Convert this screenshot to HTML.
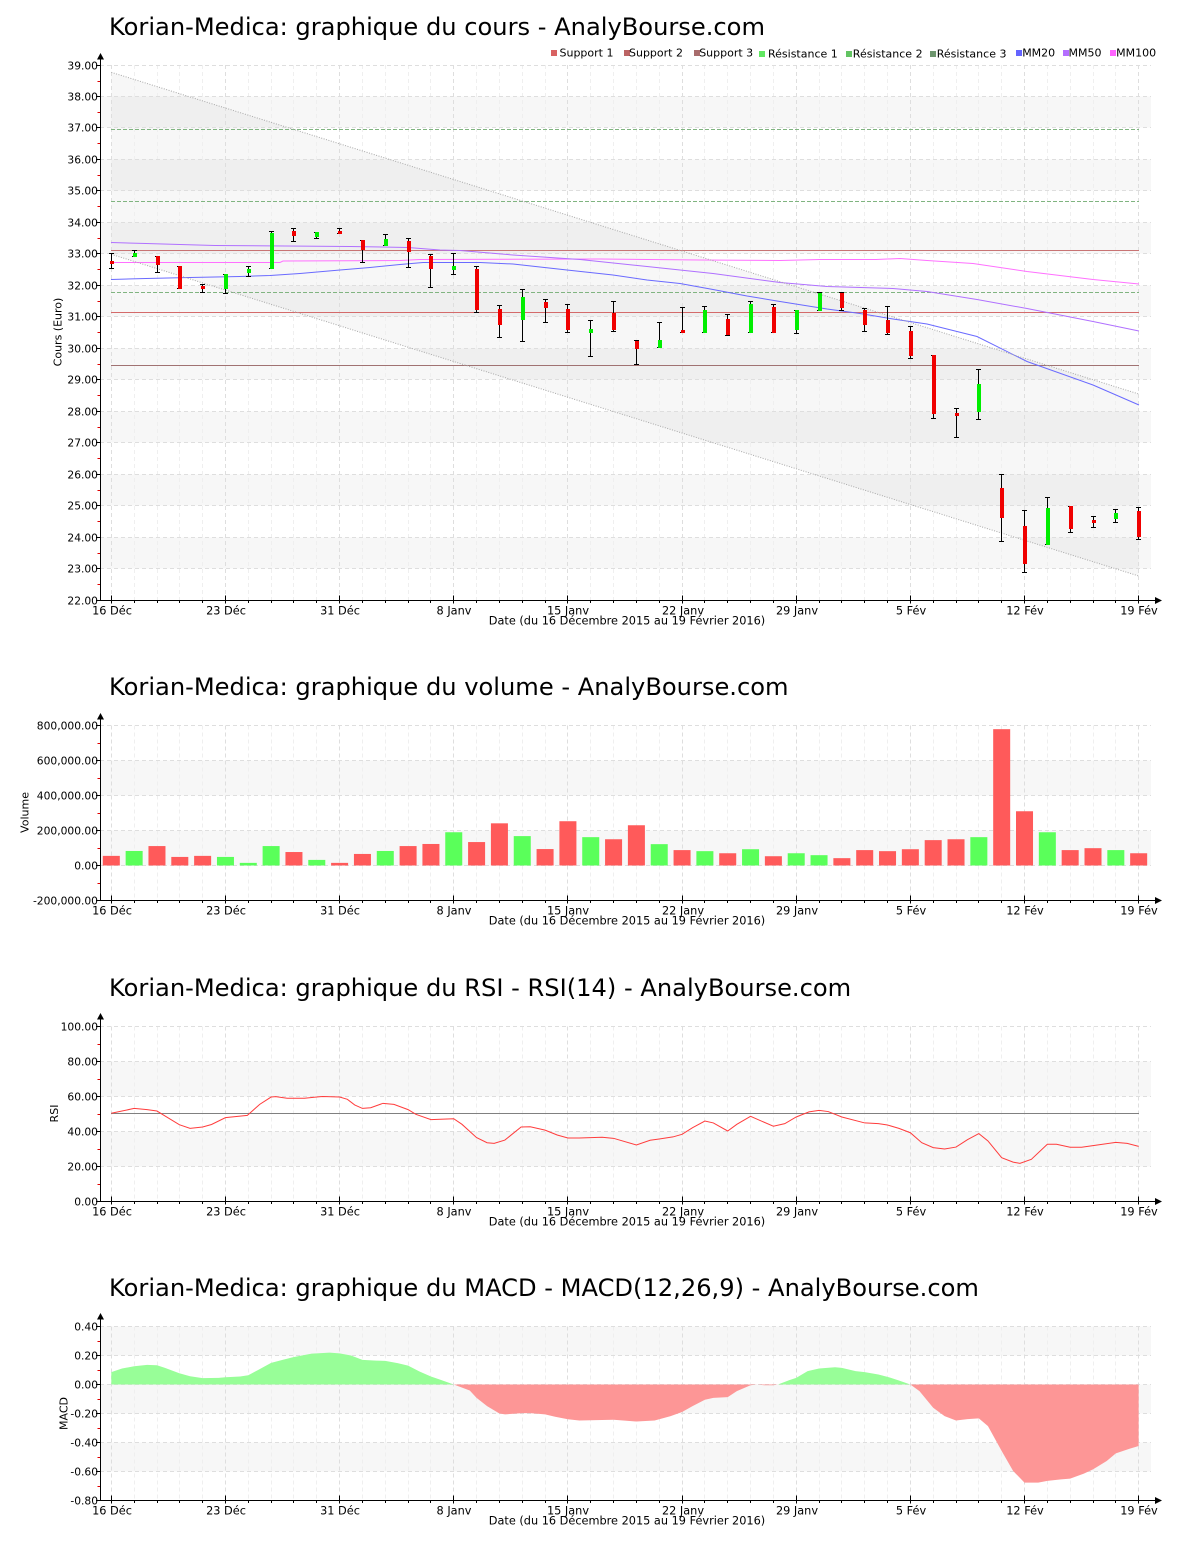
<!DOCTYPE html>
<html><head><meta charset="utf-8"><title>Korian-Medica - AnalyBourse.com</title>
<style>
html,body{margin:0;padding:0;background:#fff}
svg{display:block}
text{font-family:"DejaVu Sans","Liberation Sans",sans-serif;fill:#000}
.yl{font-size:10.7px;text-anchor:end}
.xl{font-size:11.3px;text-anchor:middle}
.tt{font-size:24.15px}
.lg{font-size:11px}
.at{font-size:11px;text-anchor:middle}
</style></head>
<body>
<svg width="1200" height="1550" viewBox="0 0 1200 1550" xmlns="http://www.w3.org/2000/svg">
<rect x="0" y="0" width="1200" height="1550" fill="#fff"/>

<!-- ================= PRICE CHART ================= -->
<text class="tt" x="109" y="35">Korian-Medica: graphique du cours - AnalyBourse.com</text>
<g fill="#f7f7f7">
<rect x="100" y="96.5" width="1051" height="31"/><rect x="100" y="159.5" width="1051" height="31"/>
<rect x="100" y="222.5" width="1051" height="31"/><rect x="100" y="285.5" width="1051" height="31"/>
<rect x="100" y="348.5" width="1051" height="31"/><rect x="100" y="411.5" width="1051" height="31"/>
<rect x="100" y="474.5" width="1051" height="31"/><rect x="100" y="537.5" width="1051" height="31"/>
</g>
<polygon points="111.3,72.3 1138.7,394 1138.7,576 111.3,254.3" fill="rgba(0,0,0,0.03)"/>
<path d="M134.5 65v535M157.5 65v535M179.5 65v535M202.5 65v535M248.5 65v535M271.5 65v535M293.5 65v535M316.5 65v535M362.5 65v535M385.5 65v535M408.5 65v535M430.5 65v535M476.5 65v535M499.5 65v535M522.5 65v535M545.5 65v535M590.5 65v535M613.5 65v535M636.5 65v535M659.5 65v535M704.5 65v535M727.5 65v535M750.5 65v535M773.5 65v535M819.5 65v535M841.5 65v535M864.5 65v535M887.5 65v535M933.5 65v535M956.5 65v535M978.5 65v535M1001.5 65v535M1047.5 65v535M1070.5 65v535M1093.5 65v535M1115.5 65v535" stroke="#efefef" stroke-dasharray="4,3" fill="none"/>
<path d="M111.5 65v535M225.5 65v535M339.5 65v535M453.5 65v535M567.5 65v535M682.5 65v535M796.5 65v535M910.5 65v535M1024.5 65v535M1138.5 65v535" stroke="#dedede" stroke-dasharray="4,3" fill="none"/>
<path d="M100 65.5H1151M100 96.5H1151M100 127.5H1151M100 159.5H1151M100 190.5H1151M100 222.5H1151M100 253.5H1151M100 285.5H1151M100 316.5H1151M100 348.5H1151M100 379.5H1151M100 411.5H1151M100 442.5H1151M100 474.5H1151M100 505.5H1151M100 537.5H1151M100 568.5H1151" stroke="#dedede" stroke-dasharray="4,3" fill="none"/>

<!-- support / resistance -->
<path d="M111 250.5H1139" stroke="#c87474" fill="none"/>
<path d="M111 312.5H1139" stroke="#d46a6a" fill="none"/>
<path d="M111 365.5H1139" stroke="#a07272" fill="none"/>
<path d="M111 129.5H1139M111 201.5H1139M111 292.5H1139" stroke="#80b480" stroke-dasharray="4,2" fill="none"/>

<!-- moving averages -->
<polyline points="111,262.5 280,262.5 283,261 400,260.5 420,259.5 600,259 700,260 780,260.5 820,259.5 876,259.5 900,258.5 927,260.5 973,263.5 1027,271.5 1093,279.5 1139,284" stroke="#ff70ff" fill="none"/>
<polyline points="111,242.5 146,243.5 180,244.5 215,245.5 350,246.5 408,247.5 440,250 460,250.5 513,255 580,259.5 647,266.5 713,273.5 780,282.5 827,286.5 893,288.5 927,291.5 977,299.5 1027,308.5 1093,321.5 1139,331" stroke="#b070ff" fill="none"/>
<polyline points="111,279.5 146,278.5 190,277.5 240,276.5 270,275.5 300,273.5 340,270 370,267.5 400,264.5 423,262.5 480,262.5 513,264 567,270 613,275 647,280 680,283.5 713,289.5 747,296 780,301.5 827,309 860,313.5 893,319 927,324 977,336.5 1027,361.5 1093,385 1139,405" stroke="#6a6aff" fill="none"/>

<!-- channel -->
<path d="M111.3 72.3L1138.7 394M111.3 254.3L1138.7 576" stroke="#a8a8a8" stroke-dasharray="1,1.5" fill="none"/>

<!-- candles wicks -->
<path stroke="#000" fill="none" d="M111.5 253V269M109 253.5H114M109 268.5H114M134.5 250V257M132 250.5H137M132 256.5H137M157.5 256V273M155 256.5H160M155 272.5H160M179.5 266V289M177 266.5H182M177 288.5H182M202.5 284V293M200 284.5H205M200 292.5H205M225.5 274V294M223 274.5H228M223 293.5H228M248.5 266V277M246 266.5H251M246 276.5H251M271.5 231V269M269 231.5H274M269 268.5H274M293.5 228V242M291 228.5H296M291 241.5H296M316.5 232V239M314 232.5H319M314 238.5H319M339.5 228V234M337 228.5H342M337 233.5H342M362.5 240V263M360 240.5H365M360 262.5H365M385.5 234V246M383 234.5H388M383 245.5H388M408.5 238V268M406 238.5H411M406 267.5H411M430.5 254V288M428 254.5H433M428 287.5H433M453.5 253V275M451 253.5H456M451 274.5H456M476.5 266V313M474 266.5H479M474 312.5H479M499.5 305V338M497 305.5H502M497 337.5H502M522.5 289V342M520 289.5H525M520 341.5H525M545.5 299V323M543 299.5H548M543 322.5H548M567.5 304V333M565 304.5H570M565 332.5H570M590.5 320V357M588 320.5H593M588 356.5H593M613.5 301V332M611 301.5H616M611 331.5H616M636.5 340V365M634 340.5H639M634 364.5H639M659.5 322V348M657 322.5H662M657 347.5H662M682.5 307V333M680 307.5H685M680 332.5H685M704.5 306V333M702 306.5H707M702 332.5H707M727.5 314V336M725 314.5H730M725 335.5H730M750.5 301V333M748 301.5H753M748 332.5H753M773.5 304V333M771 304.5H776M771 332.5H776M796.5 310V334M794 310.5H799M794 333.5H799M819.5 292V311M817 292.5H822M817 310.5H822M841.5 292V311M839 292.5H844M839 310.5H844M864.5 308V332M862 308.5H867M862 331.5H867M887.5 306V335M885 306.5H890M885 334.5H890M910.5 326V359M908 326.5H913M908 358.5H913M933.5 355V419M931 355.5H936M931 418.5H936M956.5 408V438M954 408.5H959M954 437.5H959M978.5 369V420M976 369.5H981M976 419.5H981M1001.5 474V542M999 474.5H1004M999 541.5H1004M1024.5 510V573M1022 510.5H1027M1022 572.5H1027M1047.5 497V545M1045 497.5H1050M1045 544.5H1050M1070.5 506V533M1068 506.5H1073M1068 532.5H1073M1093.5 516V528M1091 516.5H1096M1091 527.5H1096M1115.5 509V523M1113 509.5H1118M1113 522.5H1118M1138.5 507V540M1136 507.5H1141M1136 539.5H1141"/>
<!-- candle bodies red -->
<g fill="#f00000">
<rect x="110" y="261" width="4" height="3"/><rect x="156" y="256" width="4" height="9"/>
<rect x="178" y="266" width="4" height="23"/><rect x="201" y="286" width="4" height="3"/>
<rect x="292" y="231" width="4" height="5"/><rect x="338" y="231" width="4" height="3"/>
<rect x="361" y="240" width="4" height="10"/><rect x="407" y="241" width="4" height="11"/>
<rect x="429" y="256" width="4" height="13"/><rect x="475" y="269" width="4" height="41"/>
<rect x="498" y="309" width="4" height="16"/><rect x="544" y="302" width="4" height="6"/>
<rect x="566" y="309" width="4" height="21"/><rect x="612" y="313" width="4" height="17"/>
<rect x="635" y="341" width="4" height="8"/><rect x="681" y="330" width="4" height="3"/>
<rect x="726" y="319" width="4" height="16"/><rect x="772" y="307" width="4" height="26"/>
<rect x="840" y="293" width="4" height="15"/><rect x="863" y="310" width="4" height="15"/>
<rect x="886" y="320" width="4" height="13"/><rect x="909" y="331" width="4" height="25"/>
<rect x="932" y="355" width="4" height="59"/><rect x="955" y="413" width="4" height="3"/>
<rect x="1000" y="488" width="4" height="30"/><rect x="1023" y="526" width="4" height="38"/>
<rect x="1069" y="506" width="4" height="23"/><rect x="1092" y="520" width="4" height="3"/>
<rect x="1137" y="511" width="4" height="26"/>
</g>
<!-- candle bodies green -->
<g fill="#00ee00">
<rect x="133" y="253" width="4" height="4"/><rect x="224" y="274" width="4" height="15"/>
<rect x="247" y="269" width="4" height="4"/><rect x="270" y="233" width="4" height="36"/>
<rect x="315" y="232" width="4" height="5"/><rect x="384" y="239" width="4" height="7"/>
<rect x="452" y="266" width="4" height="4"/><rect x="521" y="297" width="4" height="23"/>
<rect x="589" y="329" width="4" height="4"/><rect x="658" y="340" width="4" height="8"/>
<rect x="703" y="310" width="4" height="23"/><rect x="749" y="304" width="4" height="29"/>
<rect x="795" y="310" width="4" height="20"/><rect x="818" y="293" width="4" height="18"/>
<rect x="977" y="384" width="4" height="28"/><rect x="1046" y="508" width="4" height="37"/>
<rect x="1114" y="513" width="4" height="6"/>
</g>

<!-- price axes -->
<path d="M100.5 59V601M100 600.5H1155" stroke="#000" fill="none"/>
<polygon points="100.5,53 97,59.5 104,59.5" fill="#000"/>
<polygon points="1162,600.5 1155,597 1155,604" fill="#000"/>
<path d="M96 65.5H100M96 96.5H100M96 127.5H100M96 159.5H100M96 190.5H100M96 222.5H100M96 253.5H100M96 285.5H100M96 316.5H100M96 348.5H100M96 379.5H100M96 411.5H100M96 442.5H100M96 474.5H100M96 505.5H100M96 537.5H100M96 568.5H100M96 600.5H100" stroke="#000" fill="none"/>
<path d="M97.5 81.5H100M97.5 112.5H100M97.5 143.5H100M97.5 175.5H100M97.5 206.5H100M97.5 238.5H100M97.5 269.5H100M97.5 301.5H100M97.5 332.5H100M97.5 364.5H100M97.5 395.5H100M97.5 427.5H100M97.5 458.5H100M97.5 490.5H100M97.5 521.5H100M97.5 553.5H100M97.5 584.5H100" stroke="#e00000" fill="none"/>
<path d="M111.5 595.5v8M225.5 595.5v8M339.5 595.5v8M453.5 595.5v8M567.5 595.5v8M682.5 595.5v8M796.5 595.5v8M910.5 595.5v8M1024.5 595.5v8M1138.5 595.5v8" stroke="#000" fill="none"/>
<path d="M134.5 600v3M157.5 600v3M179.5 600v3M202.5 600v3M248.5 600v3M271.5 600v3M293.5 600v3M316.5 600v3M362.5 600v3M385.5 600v3M408.5 600v3M430.5 600v3M476.5 600v3M499.5 600v3M522.5 600v3M545.5 600v3M590.5 600v3M613.5 600v3M636.5 600v3M659.5 600v3M704.5 600v3M727.5 600v3M750.5 600v3M773.5 600v3M819.5 600v3M841.5 600v3M864.5 600v3M887.5 600v3M933.5 600v3M956.5 600v3M978.5 600v3M1001.5 600v3M1047.5 600v3M1070.5 600v3M1093.5 600v3M1115.5 600v3" stroke="#000" fill="none"/>
<g class="yl">
<text x="98" y="69.5">39.00</text><text x="98" y="100.5">38.00</text><text x="98" y="131.5">37.00</text>
<text x="98" y="163.5">36.00</text><text x="98" y="194.5">35.00</text><text x="98" y="226.5">34.00</text>
<text x="98" y="257.5">33.00</text><text x="98" y="289.5">32.00</text><text x="98" y="320.5">31.00</text>
<text x="98" y="352.5">30.00</text><text x="98" y="383.5">29.00</text><text x="98" y="415.5">28.00</text>
<text x="98" y="446.5">27.00</text><text x="98" y="478.5">26.00</text><text x="98" y="509.5">25.00</text>
<text x="98" y="541.5">24.00</text><text x="98" y="572.5">23.00</text><text x="98" y="604.5">22.00</text>
</g>
<g class="xl">
<text x="112" y="614.5">16 Déc</text><text x="226" y="614.5">23 Déc</text><text x="340" y="614.5">31 Déc</text>
<text x="454" y="614.5">8 Janv</text><text x="568" y="614.5">15 Janv</text><text x="683" y="614.5">22 Janv</text>
<text x="797" y="614.5">29 Janv</text><text x="911" y="614.5">5 Fév</text><text x="1025" y="614.5">12 Fév</text>
<text x="1139" y="614.5">19 Fév</text>
<text x="627" y="624.5">Date (du 16 Décembre 2015 au 19 Février 2016)</text>
</g>
<text class="at" transform="translate(61.5,332) rotate(-90)">Cours (Euro)</text>

<!-- legend -->
<rect x="551" y="50" width="6" height="6" fill="#d86262"/><text class="lg" x="559.5" y="56.5">Support 1</text>
<rect x="624" y="50" width="6" height="6" fill="#bc6464"/><text class="lg" x="629" y="56.5">Support 2</text>
<rect x="694" y="50" width="6" height="6" fill="#a86c6c"/><text class="lg" x="699.2" y="56.5">Support 3</text>
<rect x="759" y="51" width="6" height="6" fill="#62e862"/><text class="lg" x="768" y="57.5">Résistance 1</text>
<rect x="846" y="51" width="6" height="6" fill="#62c462"/><text class="lg" x="852.8" y="57.5">Résistance 2</text>
<rect x="930" y="51" width="6" height="6" fill="#6e966e"/><text class="lg" x="936.7" y="57.5">Résistance 3</text>
<rect x="1016" y="50" width="6" height="6" fill="#6464ff"/><text class="lg" x="1022.2" y="56.5">MM20</text>
<rect x="1063" y="50" width="6" height="6" fill="#b46eff"/><text class="lg" x="1068.5" y="56.5">MM50</text>
<rect x="1110" y="50" width="6" height="6" fill="#ff64ff"/><text class="lg" x="1116.1" y="56.5">MM100</text>

<!-- ================= VOLUME CHART ================= -->
<text class="tt" x="109" y="695">Korian-Medica: graphique du volume - AnalyBourse.com</text>
<g fill="#f7f7f7">
<rect x="100" y="760.5" width="1051" height="35"/><rect x="100" y="830.5" width="1051" height="35"/>
</g>
<path d="M134.5 725.5v175M157.5 725.5v175M179.5 725.5v175M202.5 725.5v175M248.5 725.5v175M271.5 725.5v175M293.5 725.5v175M316.5 725.5v175M362.5 725.5v175M385.5 725.5v175M408.5 725.5v175M430.5 725.5v175M476.5 725.5v175M499.5 725.5v175M522.5 725.5v175M545.5 725.5v175M590.5 725.5v175M613.5 725.5v175M636.5 725.5v175M659.5 725.5v175M704.5 725.5v175M727.5 725.5v175M750.5 725.5v175M773.5 725.5v175M819.5 725.5v175M841.5 725.5v175M864.5 725.5v175M887.5 725.5v175M933.5 725.5v175M956.5 725.5v175M978.5 725.5v175M1001.5 725.5v175M1047.5 725.5v175M1070.5 725.5v175M1093.5 725.5v175M1115.5 725.5v175" stroke="#efefef" stroke-dasharray="4,3" fill="none"/>
<path d="M111.5 725.5v175M225.5 725.5v175M339.5 725.5v175M453.5 725.5v175M567.5 725.5v175M682.5 725.5v175M796.5 725.5v175M910.5 725.5v175M1024.5 725.5v175M1138.5 725.5v175" stroke="#dedede" stroke-dasharray="4,3" fill="none"/>
<path d="M100 725.5H1151M100 760.5H1151M100 795.5H1151M100 830.5H1151M100 865.5H1151" stroke="#dedede" stroke-dasharray="4,3" fill="none"/>
<g transform="translate(111.3,865.5) scale(22.83,-0.175)">
<g fill="#ff5a5a">
<rect x="-0.372" y="0" width="0.745" height="55"/><rect x="1.628" y="0" width="0.745" height="111"/>
<rect x="2.628" y="0" width="0.745" height="49"/><rect x="3.628" y="0" width="0.745" height="55"/>
<rect x="7.628" y="0" width="0.745" height="77"/><rect x="9.628" y="0" width="0.745" height="15"/>
<rect x="10.628" y="0" width="0.745" height="66"/><rect x="12.628" y="0" width="0.745" height="111"/>
<rect x="13.628" y="0" width="0.745" height="123"/><rect x="15.628" y="0" width="0.745" height="134"/>
<rect x="16.628" y="0" width="0.745" height="241"/><rect x="18.628" y="0" width="0.745" height="94"/>
<rect x="19.628" y="0" width="0.745" height="253"/><rect x="21.628" y="0" width="0.745" height="150"/>
<rect x="22.628" y="0" width="0.745" height="230"/><rect x="24.628" y="0" width="0.745" height="88"/>
<rect x="26.628" y="0" width="0.745" height="70"/><rect x="28.628" y="0" width="0.745" height="53"/>
<rect x="31.628" y="0" width="0.745" height="42"/><rect x="32.628" y="0" width="0.745" height="88"/>
<rect x="33.628" y="0" width="0.745" height="82"/><rect x="34.628" y="0" width="0.745" height="93"/>
<rect x="35.628" y="0" width="0.745" height="145"/><rect x="36.628" y="0" width="0.745" height="150"/>
<rect x="38.628" y="0" width="0.745" height="779"/><rect x="39.628" y="0" width="0.745" height="310"/>
<rect x="41.628" y="0" width="0.745" height="88"/><rect x="42.628" y="0" width="0.745" height="99"/>
<rect x="44.628" y="0" width="0.745" height="70"/>
</g>
<g fill="#5aff5a">
<rect x="0.628" y="0" width="0.745" height="83"/><rect x="4.628" y="0" width="0.745" height="49"/>
<rect x="5.628" y="0" width="0.745" height="15"/><rect x="6.628" y="0" width="0.745" height="111"/>
<rect x="8.628" y="0" width="0.745" height="32"/><rect x="11.628" y="0" width="0.745" height="83"/>
<rect x="14.628" y="0" width="0.745" height="190"/><rect x="17.628" y="0" width="0.745" height="168"/>
<rect x="20.628" y="0" width="0.745" height="162"/><rect x="23.628" y="0" width="0.745" height="122"/>
<rect x="25.628" y="0" width="0.745" height="82"/><rect x="27.628" y="0" width="0.745" height="93"/>
<rect x="29.628" y="0" width="0.745" height="70"/><rect x="30.628" y="0" width="0.745" height="59"/>
<rect x="37.628" y="0" width="0.745" height="162"/><rect x="40.628" y="0" width="0.745" height="190"/>
<rect x="43.628" y="0" width="0.745" height="88"/>
</g>
</g>
<path d="M100.5 719V901M100 900.5H1155" stroke="#000" fill="none"/>
<polygon points="100.5,713 97,719.5 104,719.5" fill="#000"/>
<polygon points="1162,900.5 1155,897 1155,904" fill="#000"/>
<path d="M96 725.5H100M96 760.5H100M96 795.5H100M96 830.5H100M96 865.5H100M96 900.5H100" stroke="#000" fill="none"/>
<path d="M97.5 743.5H100M97.5 778.5H100M97.5 813.5H100M97.5 848.5H100M97.5 883.5H100" stroke="#e00000" fill="none"/>
<path d="M111.5 895.5v8M225.5 895.5v8M339.5 895.5v8M453.5 895.5v8M567.5 895.5v8M682.5 895.5v8M796.5 895.5v8M910.5 895.5v8M1024.5 895.5v8M1138.5 895.5v8" stroke="#000" fill="none"/>
<path d="M134.5 900v3M157.5 900v3M179.5 900v3M202.5 900v3M248.5 900v3M271.5 900v3M293.5 900v3M316.5 900v3M362.5 900v3M385.5 900v3M408.5 900v3M430.5 900v3M476.5 900v3M499.5 900v3M522.5 900v3M545.5 900v3M590.5 900v3M613.5 900v3M636.5 900v3M659.5 900v3M704.5 900v3M727.5 900v3M750.5 900v3M773.5 900v3M819.5 900v3M841.5 900v3M864.5 900v3M887.5 900v3M933.5 900v3M956.5 900v3M978.5 900v3M1001.5 900v3M1047.5 900v3M1070.5 900v3M1093.5 900v3M1115.5 900v3" stroke="#000" fill="none"/>
<g class="yl">
<text x="98" y="729.5">800,000.00</text><text x="98" y="764.5">600,000.00</text><text x="98" y="799.5">400,000.00</text>
<text x="98" y="834.5">200,000.00</text><text x="98" y="869.5">0.00</text><text x="98" y="904.5">-200,000.00</text>
</g>
<g class="xl">
<text x="112" y="914.5">16 Déc</text><text x="226" y="914.5">23 Déc</text><text x="340" y="914.5">31 Déc</text>
<text x="454" y="914.5">8 Janv</text><text x="568" y="914.5">15 Janv</text><text x="683" y="914.5">22 Janv</text>
<text x="797" y="914.5">29 Janv</text><text x="911" y="914.5">5 Fév</text><text x="1025" y="914.5">12 Fév</text>
<text x="1139" y="914.5">19 Fév</text>
<text x="627" y="924.5">Date (du 16 Décembre 2015 au 19 Février 2016)</text>
</g>
<text class="at" transform="translate(28.5,812.5) rotate(-90)">Volume</text>

<!-- ================= RSI CHART ================= -->
<text class="tt" x="109" y="996">Korian-Medica: graphique du RSI - RSI(14) - AnalyBourse.com</text>
<g fill="#f7f7f7">
<rect x="100" y="1061.5" width="1051" height="35"/><rect x="100" y="1131.5" width="1051" height="35"/>
</g>
<path d="M134.5 1026.5v175M157.5 1026.5v175M179.5 1026.5v175M202.5 1026.5v175M248.5 1026.5v175M271.5 1026.5v175M293.5 1026.5v175M316.5 1026.5v175M362.5 1026.5v175M385.5 1026.5v175M408.5 1026.5v175M430.5 1026.5v175M476.5 1026.5v175M499.5 1026.5v175M522.5 1026.5v175M545.5 1026.5v175M590.5 1026.5v175M613.5 1026.5v175M636.5 1026.5v175M659.5 1026.5v175M704.5 1026.5v175M727.5 1026.5v175M750.5 1026.5v175M773.5 1026.5v175M819.5 1026.5v175M841.5 1026.5v175M864.5 1026.5v175M887.5 1026.5v175M933.5 1026.5v175M956.5 1026.5v175M978.5 1026.5v175M1001.5 1026.5v175M1047.5 1026.5v175M1070.5 1026.5v175M1093.5 1026.5v175M1115.5 1026.5v175" stroke="#efefef" stroke-dasharray="4,3" fill="none"/>
<path d="M111.5 1026.5v175M225.5 1026.5v175M339.5 1026.5v175M453.5 1026.5v175M567.5 1026.5v175M682.5 1026.5v175M796.5 1026.5v175M910.5 1026.5v175M1024.5 1026.5v175M1138.5 1026.5v175" stroke="#dedede" stroke-dasharray="4,3" fill="none"/>
<path d="M100 1026.5H1151M100 1061.5H1151M100 1096.5H1151M100 1131.5H1151M100 1166.5H1151" stroke="#dedede" stroke-dasharray="4,3" fill="none"/>
<path d="M111 1113.5H1139" stroke="#808080" fill="none"/>
<g transform="translate(111.3,1201.5) scale(22.83,-1.75)">
<polyline vector-effect="non-scaling-stroke" stroke="#ff3c3c" stroke-width="1" fill="none" points="0,50.4 1,53.2 1.57,52.5 2,51.7 2.35,48.9 2.98,43.9 3.45,41.8 4,42.6 4.39,44 5,47.9 5.96,49.2 6.5,55.5 7,59.7 7.2,59.9 7.7,59 8,59 8.46,59 9,59.7 9.25,60 10,59.7 10.34,58.4 10.66,55.2 11,53.2 11.36,53.6 11.9,56.1 12.38,55.5 13,52.5 13.34,49.8 14,46.8 14.42,47 15,47.3 15.36,44.1 16,36.5 16.46,33.6 16.77,33.2 17.24,35.1 17.95,42.6 18.35,42.7 19,40.8 19.53,38 20,36.3 20.5,36.3 21.5,36.7 22,36.1 23,32.3 23.6,35 24,35.7 24.6,36.9 25,38.4 25.46,42.2 26,46 26.37,44.9 27,40.3 27.4,44.1 28,48.7 28.4,46.4 29,43 29.5,44.5 30,48.3 30.56,51.2 31,52.1 31.4,51.4 32,48.3 33,44.9 33.6,44.5 34,43.7 34.5,41.8 35,39.3 35.5,33.6 36,30.8 36.5,30 37,31.1 37.5,35.3 38,38.8 38.4,34.6 39,25 39.5,22.5 39.8,21.8 40.3,24.1 41,32.7 41.4,32.7 42,31 42.5,31 43,31.9 44,33.8 44.5,33.2 45,31.5"/>
</g>
<path d="M100.5 1019V1202M100 1201.5H1155" stroke="#000" fill="none"/>
<polygon points="100.5,1013 97,1019.5 104,1019.5" fill="#000"/>
<polygon points="1162,1201.5 1155,1198 1155,1205" fill="#000"/>
<path d="M96 1026.5H100M96 1061.5H100M96 1096.5H100M96 1131.5H100M96 1166.5H100M96 1201.5H100" stroke="#000" fill="none"/>
<path d="M97.5 1044.5H100M97.5 1079.5H100M97.5 1114.5H100M97.5 1149.5H100M97.5 1184.5H100" stroke="#e00000" fill="none"/>
<path d="M111.5 1196.5v8M225.5 1196.5v8M339.5 1196.5v8M453.5 1196.5v8M567.5 1196.5v8M682.5 1196.5v8M796.5 1196.5v8M910.5 1196.5v8M1024.5 1196.5v8M1138.5 1196.5v8" stroke="#000" fill="none"/>
<path d="M134.5 1201v3M157.5 1201v3M179.5 1201v3M202.5 1201v3M248.5 1201v3M271.5 1201v3M293.5 1201v3M316.5 1201v3M362.5 1201v3M385.5 1201v3M408.5 1201v3M430.5 1201v3M476.5 1201v3M499.5 1201v3M522.5 1201v3M545.5 1201v3M590.5 1201v3M613.5 1201v3M636.5 1201v3M659.5 1201v3M704.5 1201v3M727.5 1201v3M750.5 1201v3M773.5 1201v3M819.5 1201v3M841.5 1201v3M864.5 1201v3M887.5 1201v3M933.5 1201v3M956.5 1201v3M978.5 1201v3M1001.5 1201v3M1047.5 1201v3M1070.5 1201v3M1093.5 1201v3M1115.5 1201v3" stroke="#000" fill="none"/>
<g class="yl">
<text x="98" y="1030.5">100.00</text><text x="98" y="1065.5">80.00</text><text x="98" y="1100.5">60.00</text>
<text x="98" y="1135.5">40.00</text><text x="98" y="1170.5">20.00</text><text x="98" y="1205.5">0.00</text>
</g>
<g class="xl">
<text x="112" y="1215.5">16 Déc</text><text x="226" y="1215.5">23 Déc</text><text x="340" y="1215.5">31 Déc</text>
<text x="454" y="1215.5">8 Janv</text><text x="568" y="1215.5">15 Janv</text><text x="683" y="1215.5">22 Janv</text>
<text x="797" y="1215.5">29 Janv</text><text x="911" y="1215.5">5 Fév</text><text x="1025" y="1215.5">12 Fév</text>
<text x="1139" y="1215.5">19 Fév</text>
<text x="627" y="1225.5">Date (du 16 Décembre 2015 au 19 Février 2016)</text>
</g>
<text class="at" transform="translate(58,1113.5) rotate(-90)">RSI</text>

<!-- ================= MACD CHART ================= -->
<text class="tt" x="109" y="1296">Korian-Medica: graphique du MACD - MACD(12,26,9) - AnalyBourse.com</text>
<g fill="#f7f7f7">
<rect x="100" y="1326.5" width="1051" height="29"/><rect x="100" y="1384.5" width="1051" height="29"/>
<rect x="100" y="1442.5" width="1051" height="29"/>
</g>
<path d="M134.5 1326.5v174M157.5 1326.5v174M179.5 1326.5v174M202.5 1326.5v174M248.5 1326.5v174M271.5 1326.5v174M293.5 1326.5v174M316.5 1326.5v174M362.5 1326.5v174M385.5 1326.5v174M408.5 1326.5v174M430.5 1326.5v174M476.5 1326.5v174M499.5 1326.5v174M522.5 1326.5v174M545.5 1326.5v174M590.5 1326.5v174M613.5 1326.5v174M636.5 1326.5v174M659.5 1326.5v174M704.5 1326.5v174M727.5 1326.5v174M750.5 1326.5v174M773.5 1326.5v174M819.5 1326.5v174M841.5 1326.5v174M864.5 1326.5v174M887.5 1326.5v174M933.5 1326.5v174M956.5 1326.5v174M978.5 1326.5v174M1001.5 1326.5v174M1047.5 1326.5v174M1070.5 1326.5v174M1093.5 1326.5v174M1115.5 1326.5v174" stroke="#efefef" stroke-dasharray="4,3" fill="none"/>
<path d="M111.5 1326.5v174M225.5 1326.5v174M339.5 1326.5v174M453.5 1326.5v174M567.5 1326.5v174M682.5 1326.5v174M796.5 1326.5v174M910.5 1326.5v174M1024.5 1326.5v174M1138.5 1326.5v174" stroke="#dedede" stroke-dasharray="4,3" fill="none"/>
<path d="M100 1326.5H1151M100 1355.5H1151M100 1384.5H1151M100 1413.5H1151M100 1442.5H1151M100 1471.5H1151" stroke="#dedede" stroke-dasharray="4,3" fill="none"/>
<defs>
<clipPath id="cpos" clipPathUnits="userSpaceOnUse"><rect x="-2" y="0" width="50" height="2"/></clipPath>
<clipPath id="cneg" clipPathUnits="userSpaceOnUse"><rect x="-2" y="-2" width="50" height="2"/></clipPath>
</defs>
<g transform="translate(111.3,1384.5) scale(22.83,-145)">
<polygon clip-path="url(#cpos)" fill="#98fe98" points="0,0 0,0.085 0.47,0.11 1,0.126 1.57,0.135 2,0.133 2.35,0.115 2.98,0.078 3.45,0.057 4,0.044 4.7,0.046 5,0.05 5.64,0.055 6,0.064 6.43,0.1 7,0.149 7.5,0.17 8,0.19 8.78,0.213 9,0.215 9.56,0.22 10,0.215 10.5,0.2 11,0.17 11.6,0.165 12,0.163 12.54,0.147 13,0.13 13.5,0.09 14,0.055 14.4,0.034 15,0 15.7,-0.041 16,-0.092 16.46,-0.149 17,-0.2 17.25,-0.206 18,-0.197 18.35,-0.197 19,-0.206 19.44,-0.222 20,-0.24 20.5,-0.248 22,-0.243 23,-0.255 23.8,-0.248 24.5,-0.218 25,-0.19 25.46,-0.149 26,-0.105 26.37,-0.092 27,-0.087 27.4,-0.046 28,-0.005 28.3,0 28.6,-0.005 29,-0.005 29.2,0 29.7,0.03 30,0.046 30.5,0.092 31,0.11 31.7,0.119 32,0.115 32.6,0.092 33,0.085 33.6,0.069 34,0.053 34.5,0.028 35,0 35.4,-0.046 36,-0.16 36.5,-0.218 37,-0.248 37.5,-0.239 38,-0.234 38.4,-0.287 39,-0.459 39.5,-0.596 40,-0.677 40.6,-0.677 41,-0.665 41.6,-0.654 42,-0.649 42.6,-0.615 43,-0.585 43.6,-0.528 44,-0.475 44.6,-0.443 45,-0.424 45,0"/>
<polygon clip-path="url(#cneg)" fill="#fd9696" points="0,0 0,0.085 0.47,0.11 1,0.126 1.57,0.135 2,0.133 2.35,0.115 2.98,0.078 3.45,0.057 4,0.044 4.7,0.046 5,0.05 5.64,0.055 6,0.064 6.43,0.1 7,0.149 7.5,0.17 8,0.19 8.78,0.213 9,0.215 9.56,0.22 10,0.215 10.5,0.2 11,0.17 11.6,0.165 12,0.163 12.54,0.147 13,0.13 13.5,0.09 14,0.055 14.4,0.034 15,0 15.7,-0.041 16,-0.092 16.46,-0.149 17,-0.2 17.25,-0.206 18,-0.197 18.35,-0.197 19,-0.206 19.44,-0.222 20,-0.24 20.5,-0.248 22,-0.243 23,-0.255 23.8,-0.248 24.5,-0.218 25,-0.19 25.46,-0.149 26,-0.105 26.37,-0.092 27,-0.087 27.4,-0.046 28,-0.005 28.3,0 28.6,-0.005 29,-0.005 29.2,0 29.7,0.03 30,0.046 30.5,0.092 31,0.11 31.7,0.119 32,0.115 32.6,0.092 33,0.085 33.6,0.069 34,0.053 34.5,0.028 35,0 35.4,-0.046 36,-0.16 36.5,-0.218 37,-0.248 37.5,-0.239 38,-0.234 38.4,-0.287 39,-0.459 39.5,-0.596 40,-0.677 40.6,-0.677 41,-0.665 41.6,-0.654 42,-0.649 42.6,-0.615 43,-0.585 43.6,-0.528 44,-0.475 44.6,-0.443 45,-0.424 45,0"/>
</g>
<path d="M100.5 1319V1501M100 1500.5H1155" stroke="#000" fill="none"/>
<polygon points="100.5,1313 97,1319.5 104,1319.5" fill="#000"/>
<polygon points="1162,1500.5 1155,1497 1155,1504" fill="#000"/>
<path d="M96 1326.5H100M96 1355.5H100M96 1384.5H100M96 1413.5H100M96 1442.5H100M96 1471.5H100M96 1500.5H100" stroke="#000" fill="none"/>
<path d="M97.5 1341.5H100M97.5 1370.5H100M97.5 1399.5H100M97.5 1428.5H100M97.5 1457.5H100M97.5 1486.5H100" stroke="#e00000" fill="none"/>
<path d="M111.5 1495.5v8M225.5 1495.5v8M339.5 1495.5v8M453.5 1495.5v8M567.5 1495.5v8M682.5 1495.5v8M796.5 1495.5v8M910.5 1495.5v8M1024.5 1495.5v8M1138.5 1495.5v8" stroke="#000" fill="none"/>
<path d="M134.5 1500v3M157.5 1500v3M179.5 1500v3M202.5 1500v3M248.5 1500v3M271.5 1500v3M293.5 1500v3M316.5 1500v3M362.5 1500v3M385.5 1500v3M408.5 1500v3M430.5 1500v3M476.5 1500v3M499.5 1500v3M522.5 1500v3M545.5 1500v3M590.5 1500v3M613.5 1500v3M636.5 1500v3M659.5 1500v3M704.5 1500v3M727.5 1500v3M750.5 1500v3M773.5 1500v3M819.5 1500v3M841.5 1500v3M864.5 1500v3M887.5 1500v3M933.5 1500v3M956.5 1500v3M978.5 1500v3M1001.5 1500v3M1047.5 1500v3M1070.5 1500v3M1093.5 1500v3M1115.5 1500v3" stroke="#000" fill="none"/>
<g class="yl">
<text x="98" y="1330.5">0.40</text><text x="98" y="1359.5">0.20</text><text x="98" y="1388.5">0.00</text>
<text x="98" y="1417.5">-0.20</text><text x="98" y="1446.5">-0.40</text><text x="98" y="1475.5">-0.60</text>
<text x="98" y="1504.5">-0.80</text>
</g>
<g class="xl">
<text x="112" y="1514.5">16 Déc</text><text x="226" y="1514.5">23 Déc</text><text x="340" y="1514.5">31 Déc</text>
<text x="454" y="1514.5">8 Janv</text><text x="568" y="1514.5">15 Janv</text><text x="683" y="1514.5">22 Janv</text>
<text x="797" y="1514.5">29 Janv</text><text x="911" y="1514.5">5 Fév</text><text x="1025" y="1514.5">12 Fév</text>
<text x="1139" y="1514.5">19 Fév</text>
<text x="627" y="1524.5">Date (du 16 Décembre 2015 au 19 Février 2016)</text>
</g>
<text class="at" transform="translate(67.5,1413.5) rotate(-90)">MACD</text>
</svg>
</body></html>
